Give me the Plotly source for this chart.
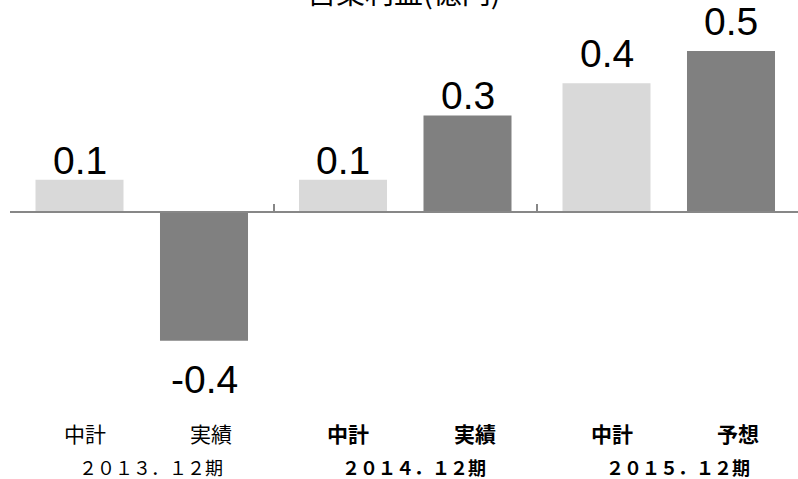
import plotly.graph_objects as go

# Operating profit (100M yen) by fiscal period
periods = ["２０１３．１２期", "２０１４．１２期", "２０１５．１２期"]
plan_values = [0.1, 0.1, 0.4]          # mid-term plan (中計)
actual_values = [-0.4, 0.3, 0.5]       # results / forecast
plan_names = ["中計", "中計", "中計"]
actual_names = ["実績", "実績", "予想"]
bold_period = [False, True, True]

# label styling (extra lift of the value labels above the bar ends, px)
plan_label_lift = [-4, -4, 6]
actual_label_lift = [0, -4, 6]

LIGHT = "#D9D9D9"
DARK = "#808080"
AXIS = "#878787"
VAL_FONT = "Liberation Sans, Arial, sans-serif"
JP_FONT = "Noto Sans CJK JP, sans-serif"

W, H = 798, 479
ML = 10
BARGAP = 0.055
BARGROUPGAP = 0.293
CAT_PX = 263.5
Y_LO, Y_HI = -0.8292, 0.6584

fig = go.Figure()
fig.add_bar(x=periods, y=plan_values, name="中計", marker=dict(color=LIGHT, line=dict(width=0)))
fig.add_bar(x=periods, y=actual_values, name="実績", marker=dict(color=DARK, line=dict(width=0)))

ann = []
half = (1 - BARGAP) / 4  # offset of each bar centre from the category centre


def wrap(txt, bold):
    return f"<b>{txt}</b>" if bold else txt


for i in range(len(periods)):
    for xc, v, lift in ((i - half, plan_values[i], plan_label_lift[i]),
                        (i + half, actual_values[i], actual_label_lift[i])):
        if v >= 0:
            ann.append(dict(x=xc, y=v, xref="x", yref="y", text=f"{v:.1f}",
                            yanchor="bottom", yshift=lift, showarrow=False,
                            font=dict(family=VAL_FONT, size=39, color="black")))
        else:
            ann.append(dict(x=xc, y=v, xref="x", yref="y", text=f"{v:.1f}",
                            yanchor="top", yshift=-15, showarrow=False,
                            font=dict(family=VAL_FONT, size=39, color="black")))
    # bar captions
    ann.append(dict(x=i - half, y=(H - 433) / H, xref="x", yref="paper",
                    text=wrap(plan_names[i], bold_period[i]), xshift=5,
                    yanchor="middle", showarrow=False,
                    font=dict(family=JP_FONT, size=21, color="black")))
    ann.append(dict(x=i + half, y=(H - 433) / H, xref="x", yref="paper",
                    text=wrap(actual_names[i], bold_period[i]), xshift=7,
                    yanchor="middle", showarrow=False,
                    font=dict(family=JP_FONT, size=21, color="black")))
    # period captions
    ann.append(dict(x=i, y=(H - 467) / H, xref="x", yref="paper",
                    text=wrap(periods[i], bold_period[i]), xshift=9,
                    yanchor="middle", showarrow=False,
                    font=dict(family=JP_FONT, size=18, color="black")))

# chart title, sitting against the top edge of the page
ann.append(dict(x=0.5, y=1, xref="paper", yref="paper", text="営業利益(億円)",
                yanchor="bottom", yshift=-14, showarrow=False,
                font=dict(family=JP_FONT, size=29, color="black")))

fig.update_layout(
    width=W, height=H,
    margin=dict(l=ML, r=0, t=0, b=0),
    paper_bgcolor="white", plot_bgcolor="white",
    barmode="group", bargap=BARGAP, bargroupgap=BARGROUPGAP,
    showlegend=False,
    annotations=ann,
    xaxis=dict(
        type="category",
        range=[-0.5, -0.5 + (W - ML) / CAT_PX],
        anchor="free", position=(H - 212) / H,
        showline=True, linecolor=AXIS, linewidth=1.5,
        ticks="inside", tickson="boundaries", ticklen=7,
        tickcolor=AXIS, tickwidth=1.5,
        showticklabels=False, showgrid=False, zeroline=False,
    ),
    yaxis=dict(range=[Y_LO, Y_HI], visible=False, showgrid=False, zeroline=False),
)

fig.write_html("out.html")
